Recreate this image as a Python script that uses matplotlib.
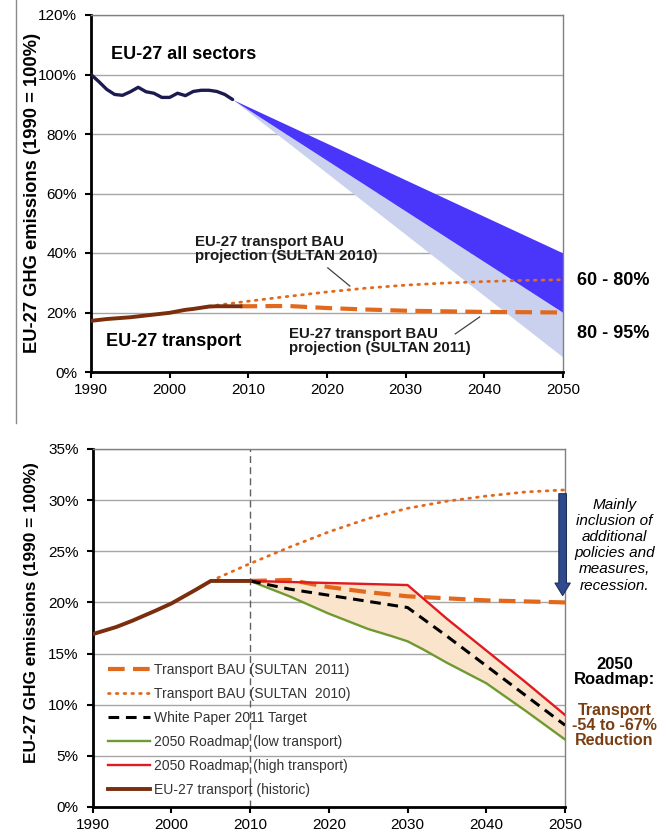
import numpy as np
import matplotlib
matplotlib.use('Agg')
import matplotlib.pyplot as plt
from matplotlib.lines import Line2D
from matplotlib.ticker import FuncFormatter, MultipleLocator

plt.rcParams['font.family'] = ['Liberation Sans', 'DejaVu Sans']

# ---------------- data: top chart ----------------
all_years = list(range(1990, 2009))
all_vals = [100, 97.6, 95.0, 93.3, 93.0, 94.2, 95.7, 94.2, 93.7, 92.3, 92.3,
            93.7, 92.9, 94.3, 94.7, 94.7, 94.3, 93.3, 91.6]
proj_years = [2008, 2050]
proj_upper = [91.6, 40]      # -60 %
proj_mid = [91.6, 20]        # -80 %
proj_lower = [91.6, 5]       # -95 %

top_tr_years = list(range(1990, 2010))
top_tr_vals = [17.2, 17.5, 17.8, 18.0, 18.2, 18.4, 18.7, 19.0, 19.3, 19.6, 19.9,
               20.4, 20.9, 21.2, 21.6, 22.0, 22.1, 22.1, 22.1, 22.1]

# ---------------- data: bottom chart ----------------
hist_years = [1990, 1993, 1995, 1998, 2000, 2003, 2005, 2010]
hist_vals = [16.9, 17.6, 18.2, 19.2, 19.9, 21.2, 22.1, 22.1]

bau10_years = [2005, 2010, 2015, 2020, 2025, 2030, 2035, 2040, 2045, 2050]
bau10_vals = [22.1, 23.8, 25.4, 26.9, 28.2, 29.2, 29.9, 30.4, 30.8, 31.0]

bau11_years = [2009, 2010, 2015, 2020, 2025, 2030, 2035, 2040, 2045, 2050]
bau11_vals = [22.1, 22.1, 22.2, 21.5, 21.0, 20.6, 20.4, 20.2, 20.1, 20.0]

wp_years = [2010, 2015, 2020, 2025, 2030, 2035, 2040, 2045, 2050]
wp_vals = [22.1, 21.3, 20.7, 20.1, 19.5, 16.7, 13.8, 10.9, 8.0]

low_years = [2010, 2015, 2020, 2025, 2028, 2030, 2032, 2035, 2040, 2045, 2050]
low_vals = [22.1, 20.6, 18.9, 17.4, 16.7, 16.2, 15.4, 14.1, 12.1, 9.4, 6.6]

high_years = [2010, 2020, 2030, 2035, 2040, 2045, 2050]
high_vals = [22.1, 21.9, 21.7, 18.4, 15.3, 12.2, 9.0]

xticks = [1990, 2000, 2010, 2020, 2030, 2040, 2050]

legend_labels = ['Transport BAU (SULTAN  2011)', 'Transport BAU (SULTAN  2010)',
                 'White Paper 2011 Target', '2050 Roadmap (low transport)',
                 '2050 Roadmap (high transport)', 'EU-27 transport (historic)']

# ---------------- colours ----------------
C_NAVY = '#1c1b4f'
C_DARKBAND = '#4a35fb'
C_LIGHTBAND = '#c9d1ef'
C_ORANGE = '#e2691c'
C_BROWN = '#7a2e0e'
C_GREEN = '#6f9a32'
C_RED = '#e01a1f'
C_PEACH = '#fbe4cc'
C_GRID = '#a6a6a6'

W, H = 669, 839
fig = plt.figure(figsize=(W / 100, H / 100), dpi=100)

pct = FuncFormatter(lambda v, p: f'{v:.0f}%')


def style_axes(ax, ymax, ystep):
    ax.set_xlim(1990, 2050)
    ax.set_ylim(0, ymax)
    ax.set_xticks(xticks)
    ax.yaxis.set_major_locator(MultipleLocator(ystep))
    ax.yaxis.set_major_formatter(pct)
    ax.grid(axis='y', color=C_GRID, lw=1.0)
    ax.set_axisbelow(True)
    for s in ['left', 'bottom']:
        ax.spines[s].set_color('black')
        ax.spines[s].set_linewidth(2.0)
    for s in ['top', 'right']:
        ax.spines[s].set_color('#808080')
        ax.spines[s].set_linewidth(1.0)
    ax.tick_params(axis='both', direction='out', length=4, width=1.5,
                   labelsize=11, colors='black')
    ax.tick_params(axis='y', pad=6)
    ax.tick_params(axis='x', pad=4)


# ================= TOP =================
ax1 = fig.add_axes([91 / W, 1 - 372 / H, (563 - 91) / W, (372 - 15) / H])
style_axes(ax1, 120, 20)

ax1.fill_between(proj_years, proj_lower, proj_mid, color=C_LIGHTBAND, lw=0, zorder=2)
ax1.fill_between(proj_years, proj_mid, proj_upper, color=C_DARKBAND, lw=0, zorder=2)
ax1.plot(all_years, all_vals, color=C_NAVY, lw=2.4, solid_capstyle='round', zorder=4)

ax1.plot(bau10_years, bau10_vals, color=C_ORANGE, lw=2.0, ls=(0, (0.6, 2.2)),
         dash_capstyle='round', zorder=3)
ax1.plot(bau11_years, bau11_vals, color=C_ORANGE, lw=3.0, ls=(0, (4, 2)), zorder=3)
ax1.plot(top_tr_years, top_tr_vals, color=C_BROWN, lw=2.8, zorder=4)

ax1.text(1992.6, 106.6, 'EU-27 all sectors', fontsize=13, fontweight='bold',
         va='center', ha='left')
ax1.text(1991.9, 10.1, 'EU-27 transport', fontsize=13, fontweight='bold',
         va='center', ha='left')
ax1.text(2003.2, 41.5, 'EU-27 transport BAU\nprojection (SULTAN 2010)', fontsize=10.8,
         fontweight='bold', va='center', ha='left', linespacing=1.0, color='#1a1a1a')
ax1.text(2015.2, 10.5, 'EU-27 transport BAU\nprojection (SULTAN 2011)', fontsize=10.8,
         fontweight='bold', va='center', ha='left', linespacing=1.0, color='#1a1a1a')
ax1.plot([2020.1, 2022.9], [35.0, 28.9], color='#404040', lw=0.9, zorder=5)
ax1.plot([2036.3, 2039.4], [12.8, 18.5], color='#404040', lw=0.9, zorder=5)

ax1.text(2051.8, 30.9, '60 - 80%', fontsize=13, fontweight='bold', va='center',
         ha='left', clip_on=False)
ax1.text(2051.8, 13.1, '80 - 95%', fontsize=13, fontweight='bold', va='center',
         ha='left', clip_on=False)

# ================= BOTTOM =================
ax2 = fig.add_axes([92.7 / W, 1 - 807 / H, (565 - 92.7) / W, (807 - 449) / H])
style_axes(ax2, 35, 5)

xs = np.linspace(2010, 2050, 401)
ax2.fill_between(xs, np.interp(xs, low_years, low_vals), np.interp(xs, high_years, high_vals),
                 color=C_PEACH, lw=0, zorder=1.5)
ax2.axvline(2010, color='#606060', lw=1.0, ls=(0, (5, 3)), zorder=1.8)

l_bau11, = ax2.plot(bau11_years[1:], bau11_vals[1:], color=C_ORANGE, lw=3.0,
                    ls=(0, (4, 2)), zorder=3)
l_bau10, = ax2.plot(bau10_years, bau10_vals, color=C_ORANGE, lw=2.0,
                    ls=(0, (0.6, 2.2)), dash_capstyle='round', zorder=3)
l_wp, = ax2.plot(wp_years, wp_vals, color='black', lw=2.2, ls=(0, (3.5, 2.2)), zorder=4)
l_low, = ax2.plot(low_years, low_vals, color=C_GREEN, lw=1.7, zorder=3.5)
l_high, = ax2.plot(high_years, high_vals, color=C_RED, lw=1.7, zorder=3.5)
l_hist, = ax2.plot(hist_years, hist_vals, color=C_BROWN, lw=2.8, zorder=4)

leg = ax2.legend([l_bau11, l_bau10, l_wp, l_low, l_high, l_hist], legend_labels,
                 loc='lower left', bbox_to_anchor=(0.012, 0.0), frameon=False,
                 fontsize=10, handlelength=3.0, handletextpad=0.3,
                 labelspacing=0.72, borderaxespad=0.3)
for t in leg.get_texts():
    t.set_color('#333333')

ax2.annotate('', xy=(2049.7, 20.4), xytext=(2049.7, 30.9),
             arrowprops=dict(arrowstyle='simple,head_length=0.9,head_width=1.1,tail_width=0.55',
                             fc='#2f4b8e', ec='#1e2e5c', lw=0.8, mutation_scale=10),
             annotation_clip=False, zorder=6)

ax2.text(2056.3, 25.6, 'Mainly\ninclusion of\nadditional\npolicies and\nmeasures,\nrecession.',
         fontsize=11, style='italic', ha='center', va='center', linespacing=1.2,
         clip_on=False)
ax2.text(2056.3, 13.2, '2050\nRoadmap:', fontsize=12, fontweight='bold', ha='center',
         va='center', linespacing=1.05, clip_on=False)
ax2.text(2056.3, 8.0, 'Transport\n-54 to -67%\nReduction', fontsize=11.5, fontweight='bold',
         color='#7a3e12', ha='center', va='center', linespacing=1.0, clip_on=False)

# y labels
fig.text(33 / W, 1 - 193 / H, 'EU-27 GHG emissions (1990 = 100%)', rotation=90,
         fontsize=13.2, fontweight='bold', ha='center', va='center')
fig.text(32 / W, 1 - 613 / H, 'EU-27 GHG emissions (1990 = 100%)', rotation=90,
         fontsize=12.4, fontweight='bold', ha='center', va='center')

# thin separator at far left of top panel
fig.add_artist(Line2D([16 / W, 16 / W], [1.0, 1 - 423 / H], color='#8a8a8a', lw=1.0))

fig.savefig('out.png', dpi=100)
